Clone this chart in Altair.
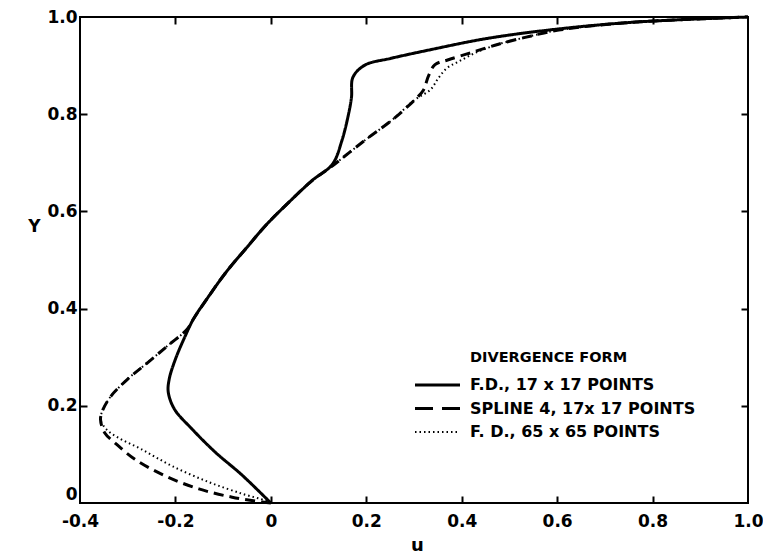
import altair as alt
import pandas as pd

# Velocity profile u(Y) -- divergence form, three discretisations
fd17_u = [0.0, -0.061, -0.117, -0.166, -0.202, -0.215, -0.213, -0.200, -0.182, -0.162,
          -0.134, -0.093, -0.051, -0.010, 0.039, 0.087, 0.129, 0.149, 0.163, 0.169,
          0.172, 0.197, 0.252, 0.336, 0.448, 0.581, 0.756, 1.0]
fd17_y = [0.0, 0.058, 0.105, 0.153, 0.193, 0.228, 0.255, 0.296, 0.338, 0.379,
          0.420, 0.476, 0.525, 0.572, 0.620, 0.664, 0.697, 0.746, 0.801, 0.835,
          0.876, 0.901, 0.915, 0.933, 0.955, 0.973, 0.989, 1.0]

spline_u = [0.0, -0.018, -0.081, -0.151, -0.222, -0.285, -0.327, -0.348, -0.357, -0.352,
            -0.335, -0.300, -0.258, -0.217, -0.175, -0.162, -0.134, -0.093, -0.051, -0.010,
            0.039, 0.087, 0.124, 0.198, 0.254, 0.302, 0.320, 0.330, 0.344, 0.372,
            0.421, 0.477, 0.533, 0.603, 0.756, 1.0]
spline_y = [0.0, 0.002, 0.012, 0.029, 0.056, 0.090, 0.124, 0.144, 0.172, 0.192,
            0.220, 0.255, 0.289, 0.323, 0.358, 0.379, 0.420, 0.476, 0.525, 0.572,
            0.620, 0.664, 0.690, 0.747, 0.788, 0.830, 0.850, 0.878, 0.902, 0.912,
            0.927, 0.944, 0.958, 0.973, 0.989, 1.0]

fd65_u = [0.0, -0.011, -0.060, -0.130, -0.207, -0.270, -0.321, -0.345, -0.357, -0.352,
          -0.335, -0.300, -0.258, -0.217, -0.175, -0.162, -0.134, -0.093, -0.051, -0.010,
          0.039, 0.087, 0.124, 0.198, 0.254, 0.302, 0.334, 0.351, 0.369, 0.393,
          0.428, 0.477, 0.533, 0.603, 0.756, 1.0]
fd65_y = [0.0, 0.005, 0.019, 0.043, 0.076, 0.110, 0.135, 0.152, 0.172, 0.192,
          0.220, 0.255, 0.289, 0.323, 0.358, 0.379, 0.420, 0.476, 0.525, 0.572,
          0.620, 0.664, 0.690, 0.747, 0.788, 0.830, 0.850, 0.874, 0.895, 0.908,
          0.926, 0.944, 0.958, 0.973, 0.989, 1.0]

series_names = ["F.D., 17 x 17 POINTS", "SPLINE 4, 17x 17 POINTS", "F. D., 65 x 65 POINTS"]
legend_heading = "DIVERGENCE FORM"
x_ticks = [-0.4, -0.2, 0.0, 0.2, 0.4, 0.6, 0.8, 1.0]
y_ticks = [0.0, 0.2, 0.4, 0.6, 0.8, 1.0]

rows = []
for name, us, ys in zip(series_names, [fd17_u, spline_u, fd65_u], [fd17_y, spline_y, fd65_y]):
    for i, (u, yv) in enumerate(zip(us, ys)):
        rows.append({"series": name, "u": u, "Y": yv, "i": i})
df = pd.DataFrame(rows)

W, H = 668, 486
FONT = "DejaVu Sans"
label_expr = ("datum.value == 0 ? '0' : (datum.value < 0 ? '-' : '') "
              "+ format(abs(datum.value), '.1f')")

x_scale = alt.Scale(domain=[-0.4, 1.0], nice=False, zero=False)
y_scale = alt.Scale(domain=[0.0, 1.0], nice=False, zero=False)

# line style per series: (stroke width, dash in plot, dash in legend key)
styles = {
    series_names[0]: (3, [1, 0], [1, 0]),
    series_names[1]: (3, [10, 6], [18, 9]),
    series_names[2]: (2, [1.5, 3], [1.5, 3]),
}

main_x = alt.Axis(orient="bottom", values=x_ticks, ticks=False, labelExpr=label_expr,
                  labelFont=FONT, labelFontSize=17, labelFontWeight="bold",
                  labelColor="black", labelPadding=10, labelFlush=False,
                  labelOverlap=False, title="u", titleFont=FONT, titleFontSize=18,
                  titleFontWeight="bold", titleColor="black", titleX=337, titleY=42,
                  titleAlign="center", titleBaseline="middle")
main_y = alt.Axis(orient="left", values=y_ticks, ticks=False, labelExpr=label_expr,
                  labelFont=FONT, labelFontSize=17, labelFontWeight="bold",
                  labelColor="black", labelPadding=3, labelFlush=False,
                  labelOverlap=False,
                  labelBaseline={"condition": {"test": "datum.value == 0", "value": "bottom"},
                                 "value": "middle"},
                  title="Y", titleFont=FONT, titleFontSize=17,
                  titleFontWeight="bold", titleColor="black", titleAngle=0,
                  titleX=-46, titleY=209, titleAlign="center", titleBaseline="middle")


def inward(orient, offset, values):
    return alt.Axis(orient=orient, offset=offset, values=values, labels=False,
                    domain=False, ticks=True, tickSize=7, tickWidth=2,
                    tickColor="black", title=None, grid=False)


def curve(name, xaxis, yaxis):
    width, dash, _ = styles[name]
    return (
        alt.Chart(df)
        .transform_filter(alt.datum.series == name)
        .mark_line(color="black", strokeWidth=width, strokeDash=dash,
                   interpolate="catmull-rom")
        .encode(
            x=alt.X("u:Q", scale=x_scale, axis=xaxis),
            y=alt.Y("Y:Q", scale=y_scale, axis=yaxis),
            order="i:Q",
        )
    )


solid = curve(series_names[0], main_x, main_y)
dashed = curve(series_names[1], inward("top", -H, x_ticks[1:-1]),
               inward("left", -W, y_ticks[1:-1]))
dotted = curve(series_names[2], inward("bottom", -H, x_ticks[1:-1]),
               inward("right", -W, y_ticks[1:-1]))

# hand-built key: heading, then one row (line sample + label) per series
KEY_X0, KEY_X1, KEY_TEXT_X = 335, 380, 390
KEY_HEAD_Y, KEY_ROW_Y0, KEY_ROW_STEP = 341, 368, 23.5

key_layers = [
    alt.Chart(pd.DataFrame({"t": [legend_heading]}))
    .mark_text(font=FONT, fontSize=14.5, fontWeight="bold", color="black",
               align="left", baseline="middle")
    .encode(x=alt.value(KEY_TEXT_X), y=alt.value(KEY_HEAD_Y), text="t:N")
]
for k, name in enumerate(series_names):
    width, _, key_dash = styles[name]
    ypix = KEY_ROW_Y0 + k * KEY_ROW_STEP
    key_data = pd.DataFrame({"t": [name]})
    key_layers.append(
        alt.Chart(key_data)
        .mark_rule(color="black", strokeWidth=width if width > 2 else 1.8,
                   strokeDash=key_dash)
        .encode(x=alt.value(KEY_X0), x2=alt.value(KEY_X1), y=alt.value(ypix))
    )
    key_layers.append(
        alt.Chart(key_data)
        .mark_text(font=FONT, fontSize=16, fontWeight="bold", color="black",
                   align="left", baseline="middle")
        .encode(x=alt.value(KEY_TEXT_X), y=alt.value(ypix), text="t:N")
    )

chart = (
    alt.layer(solid, dashed, dotted, *key_layers)
    .resolve_axis(x="independent", y="independent")
    .properties(width=W, height=H,
                autosize=alt.AutoSizeParams(type="none"),
                padding={"left": 80, "top": 17, "right": 15, "bottom": 51},
                background="white")
    .configure_view(stroke="black", strokeWidth=2)
    .configure_axis(grid=False, domain=False)
)

chart.save("out.html", embed_options={"renderer": "svg", "actions": False})
